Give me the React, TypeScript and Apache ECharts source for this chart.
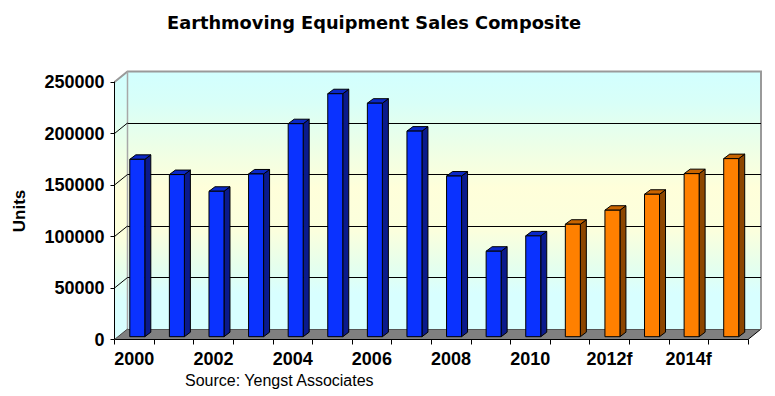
import React, { useEffect, useRef } from "react";
import * as echarts from "echarts";

const categories = [
  "2000", "2001", "2002", "2003", "2004", "2005", "2006", "2007",
  "2008", "2009", "2010", "2011f", "2012f", "2013f", "2014f", "2015f",
];
const actualValues = [172200, 157400, 141200, 158000, 206800, 235900, 226700, 199600, 156000, 83000, 97900];
const forecastValues = [109200, 122800, 138300, 158300, 172900];
const yTicks = [0, 50000, 100000, 150000, 200000, 250000];

const TITLE = "Earthmoving Equipment Sales Composite";
const Y_NAME = "Units";
const SOURCE = "Source: Yengst Associates";

const ARIAL = "'Liberation Sans', Arial, sans-serif";

const FRONT = { left: 114.5, top: 82, width: 633.5, height: 257.5 };
const DEPTH_X = 13;
const DEPTH_Y = 10.5;
const BAR_SHIFT_X = 3;
const BAR_SHIFT_Y = 2.8;

function wallGradient() {
  return new echarts.graphic.LinearGradient(0, 0, 0, 1, [
    { offset: 0, color: "#D2FFFF" },
    { offset: 0.12, color: "#D8FFF8" },
    { offset: 0.3, color: "#EEFFE6" },
    { offset: 0.45, color: "#FFFFDA" },
    { offset: 0.62, color: "#FBFFDD" },
    { offset: 0.75, color: "#E6FFEC" },
    { offset: 0.86, color: "#D8FFFF" },
    { offset: 1, color: "#D8FFFF" },
  ]);
}

function makeBarRender(front: string, side: string, topc: string) {
  return (params: any, api: any) => {
    const i = api.value(0);
    const v = api.value(1);
    const pt = api.coord([i, v]);
    const pb = api.coord([i, 0]);
    const w = 15;
    const dx = 6;
    const dy = 4.5;
    const xl = pt[0] - w / 2;
    const xr = pt[0] + w / 2;
    const yt = pt[1];
    const yb = pb[1];
    const st = { stroke: "#000", lineWidth: 1 };
    return {
      type: "group",
      children: [
        {
          type: "polygon",
          shape: { points: [[xr, yt], [xr + dx, yt - dy], [xr + dx, yb - dy], [xr, yb]] },
          style: { fill: side, ...st },
        },
        {
          type: "polygon",
          shape: { points: [[xl, yt], [xr, yt], [xr + dx, yt - dy], [xl + dx, yt - dy]] },
          style: { fill: topc, ...st },
        },
        {
          type: "rect",
          shape: { x: xl, y: yt, width: w, height: yb - yt },
          style: { fill: front, ...st },
        },
      ],
    };
  };
}

export default function App() {
  const ref = useRef<HTMLDivElement>(null);

  useEffect(() => {
    if (!ref.current) return;
    const chart = echarts.init(ref.current, null, { renderer: "svg" });

    const L = FRONT.left;
    const T = FRONT.top;
    const R = FRONT.left + FRONT.width;
    const B = FRONT.top + FRONT.height;
    const bL = L + DEPTH_X;
    const bT = T - DEPTH_Y;
    const bR = R + DEPTH_X;
    const bB = B - DEPTH_Y;

    const option: any = {
      animation: false,
      backgroundColor: "#ffffff",
      title: {
        text: TITLE,
        left: 162,
        top: 8,
        textStyle: {
          fontFamily: "'DejaVu Sans', sans-serif",
          fontWeight: "bold",
          fontSize: 17.8,
          color: "#000",
        },
      },
      grid: [
        { left: L, top: T, width: FRONT.width, height: FRONT.height },
        { left: bL, top: bT, width: FRONT.width, height: FRONT.height },
        {
          left: L + BAR_SHIFT_X,
          top: T - BAR_SHIFT_Y,
          width: FRONT.width,
          height: FRONT.height,
        },
      ],
      xAxis: [
        {
          gridIndex: 0,
          type: "category",
          data: categories,
          boundaryGap: true,
          axisLine: { show: true, lineStyle: { color: "#000", width: 1 } },
          axisTick: { show: true, length: 5, interval: 0, lineStyle: { color: "#000" } },
          axisLabel: {
            interval: 1,
            margin: 10,
            color: "#000",
            fontFamily: ARIAL,
            fontWeight: "bold",
            fontSize: 18,
          },
          splitLine: { show: false },
        },
        {
          gridIndex: 1,
          type: "category",
          data: categories,
          axisLine: { show: false },
          axisTick: { show: false },
          axisLabel: { show: false },
          splitLine: { show: false },
        },
        {
          gridIndex: 2,
          type: "category",
          data: categories,
          axisLine: { show: false },
          axisTick: { show: false },
          axisLabel: { show: false },
          splitLine: { show: false },
        },
      ],
      yAxis: [
        {
          gridIndex: 0,
          type: "value",
          min: 0,
          max: 250000,
          interval: 50000,
          axisLine: { show: true, lineStyle: { color: "#000", width: 1 } },
          axisTick: { show: true, length: 4, lineStyle: { color: "#000" } },
          axisLabel: {
            margin: 10,
            color: "#000",
            fontFamily: ARIAL,
            fontWeight: "bold",
            fontSize: 18,
            formatter: (v: number) => String(v),
          },
          splitLine: { show: false },
        },
        {
          gridIndex: 1,
          type: "value",
          min: 0,
          max: 250000,
          interval: 50000,
          axisLine: { show: false },
          axisTick: { show: false },
          axisLabel: { show: false },
          splitLine: {
            show: true,
            lineStyle: {
              color: ["#555", "#000", "#000", "#000", "#000", "rgba(0,0,0,0)"],
              width: 1,
            },
          },
        },
        {
          gridIndex: 2,
          type: "value",
          min: 0,
          max: 250000,
          interval: 50000,
          axisLine: { show: false },
          axisTick: { show: false },
          axisLabel: { show: false },
          splitLine: { show: false },
        },
      ],
      graphic: [
        {
          type: "rect",
          z: -10,
          silent: true,
          shape: { x: bL, y: bT, width: FRONT.width, height: FRONT.height },
          style: { fill: wallGradient() },
        },
        {
          type: "polygon",
          z: -10,
          silent: true,
          shape: { points: [[L, T], [bL, bT], [bL, bB], [L, B]] },
          style: { fill: wallGradient() },
        },
        {
          type: "polygon",
          z: -5,
          silent: true,
          shape: { points: [[L, B], [R, B], [bR, bB], [bL, bB]] },
          style: { fill: "#808080" },
        },
        {
          type: "line",
          z: -4,
          silent: true,
          shape: { x1: R, y1: B, x2: bR, y2: bB },
          style: { stroke: "#000", lineWidth: 1 },
        },
        {
          type: "polyline",
          z: -4,
          silent: true,
          shape: { points: [[L, T], [bL, bT], [bR, bT], [bR, bB]] },
          style: { stroke: "#9a9a9a", lineWidth: 2, fill: null },
        },
        {
          type: "line",
          z: -4,
          silent: true,
          shape: { x1: bL, y1: bT, x2: bL, y2: bB },
          style: { stroke: "#a8a8a8", lineWidth: 1.5 },
        },
        {
          type: "text",
          silent: true,
          x: 19,
          y: 211,
          rotation: Math.PI / 2,
          style: {
            text: Y_NAME,
            align: "center",
            verticalAlign: "middle",
            fontFamily: ARIAL,
            fontWeight: "bold",
            fontSize: 17,
            fill: "#000",
          },
        },
        {
          type: "text",
          silent: true,
          x: 185,
          y: 380,
          style: {
            text: SOURCE,
            align: "left",
            verticalAlign: "middle",
            fontFamily: ARIAL,
            fontWeight: "normal",
            fontSize: 16,
            fill: "#000",
          },
        },
      ],
      series: [
        {
          type: "custom",
          name: "wall ticks",
          xAxisIndex: 0,
          yAxisIndex: 0,
          silent: true,
          clip: false,
          z: 1,
          data: yTicks.map((v) => [0, v]),
          encode: { x: 0, y: 1 },
          renderItem: (params: any, api: any) => {
            const v = api.value(1);
            const p = api.coord([0, v]);
            const x0 = params.coordSys.x;
            const isTop = v === yTicks[yTicks.length - 1];
            if (isTop) return null;
            return {
              type: "line",
              shape: { x1: x0, y1: p[1], x2: x0 + DEPTH_X, y2: p[1] - DEPTH_Y },
              style: { stroke: v === 0 ? "#444" : "#000", lineWidth: 1 },
            };
          },
        },
        {
          type: "custom",
          name: "Actual",
          xAxisIndex: 2,
          yAxisIndex: 2,
          clip: false,
          z: 3,
          data: actualValues.map((v, i) => [i, v]),
          encode: { x: 0, y: 1 },
          renderItem: makeBarRender("#0A32FF", "#0A1A8C", "#0A28C8"),
        },
        {
          type: "custom",
          name: "Forecast",
          xAxisIndex: 2,
          yAxisIndex: 2,
          clip: false,
          z: 3,
          data: forecastValues.map((v, i) => [actualValues.length + i, v]),
          encode: { x: 0, y: 1 },
          renderItem: makeBarRender("#FF8000", "#8C4600", "#C86400"),
        },
      ],
    };

    chart.setOption(option);
    return () => chart.dispose();
  }, []);

  return (
    <div
      ref={ref}
      style={{ position: "absolute", left: 0, top: 0, width: 775, height: 396, background: "#fff" }}
    />
  );
}
